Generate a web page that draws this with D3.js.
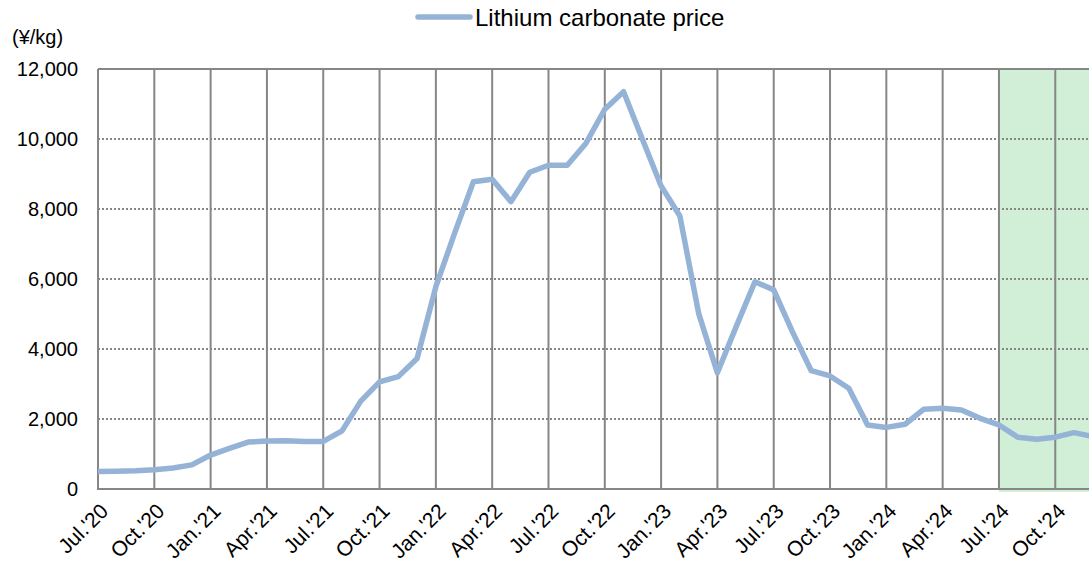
<!DOCTYPE html>
<html>
<head>
<meta charset="utf-8">
<script src="https://cdn.jsdelivr.net/npm/d3@7"></script>
<style>
  html, body { margin: 0; padding: 0; background: #fff; }
  svg { display: block; font-family: "Liberation Sans", Arial, sans-serif; }
</style>
</head>
<body>
<svg id="chart" width="1089" height="567"></svg>
<script>
// Monthly lithium carbonate price, Jul 2020 – Dec 2024 (¥/kg)
const months = [
  "2020-07","2020-08","2020-09","2020-10","2020-11","2020-12",
  "2021-01","2021-02","2021-03","2021-04","2021-05","2021-06",
  "2021-07","2021-08","2021-09","2021-10","2021-11","2021-12",
  "2022-01","2022-02","2022-03","2022-04","2022-05","2022-06",
  "2022-07","2022-08","2022-09","2022-10","2022-11","2022-12",
  "2023-01","2023-02","2023-03","2023-04","2023-05","2023-06",
  "2023-07","2023-08","2023-09","2023-10","2023-11","2023-12",
  "2024-01","2024-02","2024-03","2024-04","2024-05","2024-06",
  "2024-07","2024-08","2024-09","2024-10","2024-11","2024-12"
];
const prices = [
  500, 510, 520, 550, 600, 690,
  970, 1160, 1340, 1370, 1380, 1360,
  1360, 1660, 2510, 3060, 3210, 3730,
  5780, 7310, 8780, 8850, 8210, 9050,
  9250, 9250, 9880, 10850, 11350, 10000,
  8660, 7800, 5020, 3320, 4640, 5920,
  5690, 4490, 3380, 3230, 2880, 1830,
  1760, 1850, 2280, 2310, 2260, 2020,
  1830, 1480, 1420, 1480, 1610, 1500
];
// Quarterly tick labels, one every three months from Jul '20
const tickLabels = [
  "Jul.'20","Oct.'20","Jan.'21","Apr.'21","Jul.'21","Oct.'21",
  "Jan.'22","Apr.'22","Jul.'22","Oct.'22","Jan.'23","Apr.'23",
  "Jul.'23","Oct.'23","Jan.'24","Apr.'24","Jul.'24","Oct.'24"
];
const yTicks = [0, 2000, 4000, 6000, 8000, 10000, 12000];
const shadeFrom = "2024-07";
const seriesName = "Lithium carbonate price";
const unitLabel = "(¥/kg)";

const svg = d3.select("#chart");
const W = 1089;
const plotLeft = 98, plotTop = 69, plotBottom = 489;
const monthStep = 18.77;

const x = d3.scaleLinear()
  .domain([0, months.length - 1])
  .range([plotLeft, plotLeft + (months.length - 1) * monthStep]);
const y = d3.scaleLinear().domain([0, 12000]).range([plotBottom, plotTop]);

const gridColor = "#868686";

// Shading over the most recent period
const shadeIdx = months.indexOf(shadeFrom);
svg.append("rect")
  .attr("x", x(shadeIdx))
  .attr("y", plotTop)
  .attr("width", W - x(shadeIdx) + 20)
  .attr("height", plotBottom - plotTop + 3)
  .attr("fill", "#d1eed7");

// Horizontal dotted grid lines
svg.append("g")
  .selectAll("line")
  .data(yTicks.filter(v => v > 0 && v < 12000))
  .join("line")
  .attr("x1", plotLeft).attr("x2", W + 20)
  .attr("y1", d => y(d)).attr("y2", d => y(d))
  .attr("stroke", gridColor)
  .attr("stroke-width", 2)
  .attr("stroke-dasharray", "2,2");

// Top border line
svg.append("line")
  .attr("x1", plotLeft).attr("x2", W + 20)
  .attr("y1", y(12000)).attr("y2", y(12000))
  .attr("stroke", gridColor).attr("stroke-width", 2);

// Vertical quarter grid lines
const tickIdx = tickLabels.map((_, i) => i * 3);
svg.append("g")
  .selectAll("line")
  .data(tickIdx)
  .join("line")
  .attr("x1", d => x(d)).attr("x2", d => x(d))
  .attr("y1", plotTop).attr("y2", plotBottom)
  .attr("stroke", gridColor)
  .attr("stroke-width", 2);

// X axis baseline
svg.append("line")
  .attr("x1", plotLeft - 1).attr("x2", W + 20)
  .attr("y1", plotBottom).attr("y2", plotBottom)
  .attr("stroke", gridColor).attr("stroke-width", 2);

// Y axis labels
svg.append("g")
  .selectAll("text")
  .data(yTicks)
  .join("text")
  .attr("x", 78)
  .attr("y", d => y(d))
  .attr("dy", "0.36em")
  .attr("text-anchor", "end")
  .attr("font-size", 20)
  .attr("fill", "#000")
  .text(d => d3.format(",")(d));

svg.append("text")
  .attr("x", 12).attr("y", 44)
  .attr("font-size", 20)
  .attr("fill", "#000")
  .text(unitLabel);

// X axis labels, rotated
svg.append("g")
  .selectAll("text")
  .data(tickIdx)
  .join("text")
  .attr("transform", d => `translate(${x(d) + 1},${plotBottom + 13}) rotate(-45)`)
  .attr("text-anchor", "end")
  .attr("dy", "0.7em")
  .attr("font-size", 21)
  .attr("fill", "#000")
  .text((d, i) => tickLabels[i]);

// Price line
const line = d3.line()
  .x((d, i) => x(i))
  .y(d => y(d));

svg.append("path")
  .datum(prices)
  .attr("d", line)
  .attr("fill", "none")
  .attr("stroke", "#95b3d7")
  .attr("stroke-width", 5.5)
  .attr("stroke-linejoin", "round");

// Legend
svg.append("line")
  .attr("x1", 418).attr("x2", 470)
  .attr("y1", 17).attr("y2", 17)
  .attr("stroke", "#95b3d7")
  .attr("stroke-width", 5.5)
  .attr("stroke-linecap", "round");
svg.append("text")
  .attr("x", 475).attr("y", 26)
  .attr("font-size", 24)
  .attr("fill", "#000")
  .text(seriesName);
</script>
</body>
</html>
